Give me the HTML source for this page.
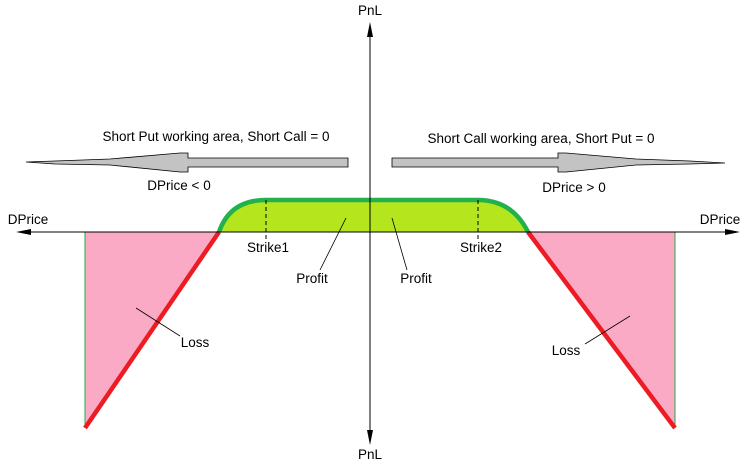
<!DOCTYPE html>
<html><head><meta charset="utf-8"><style>
html,body{margin:0;padding:0;background:#fff;}
svg{display:block;}
text{font-family:"Liberation Sans",Arial,sans-serif;font-size:13.5px;fill:#000;}
</style></head><body>
<svg width="751" height="463" viewBox="0 0 751 463" xmlns="http://www.w3.org/2000/svg">
<polygon points="85,232 219,232 85,428" fill="#fbaac6"/>
<polygon points="528,232 675,232 675,428" fill="#fbaac6"/>
<line x1="85" y1="232" x2="85" y2="428" stroke="#22aa44" stroke-width="1"/>
<line x1="675" y1="232" x2="675" y2="428" stroke="#22aa44" stroke-width="1"/>
<path d="M219,232 Q230,200 266,200 L478,200 Q512,200 528,232 Z" fill="#b5e61d"/>
<path d="M219,232 Q230,200 266,200 L478,200 Q512,200 528,232" fill="none" stroke="#22b14c" stroke-width="4.5"/>
<line x1="219" y1="232" x2="85" y2="428" stroke="#ed1c24" stroke-width="4.5"/>
<line x1="528" y1="232" x2="675" y2="428" stroke="#ed1c24" stroke-width="4.5"/>
<line x1="20" y1="232" x2="736" y2="232" stroke="#000" stroke-width="1"/>
<polygon points="16,232 31,229 31,235" fill="#000"/>
<polygon points="740,232 725,229 725,235" fill="#000"/>
<line x1="370" y1="26" x2="370" y2="440" stroke="#000" stroke-width="1"/>
<polygon points="370,22 367,37 373,37" fill="#000"/>
<polygon points="370,445 367,430 373,430" fill="#000"/>
<line x1="266" y1="200" x2="266" y2="240" stroke="#000" stroke-dasharray="4,3"/>
<line x1="478" y1="200" x2="478" y2="240" stroke="#000" stroke-dasharray="4,3"/>
<polygon points="348,158 348,167 188,167 188,172 180,172 110,165 55,164 26,162 55,161 110,159 180,153 188,153 188,158" fill="#c3c3c3" stroke="#000" stroke-width="0.8"/>
<polygon points="392,158 392,167 558,167 558,172 566,172 636,165 690,164 725,163 690,161 636,159 566,153 558,153 558,158" fill="#c3c3c3" stroke="#000" stroke-width="0.8"/>
<line x1="320" y1="270" x2="346" y2="218" stroke="#000" stroke-width="0.8"/>
<line x1="407" y1="270" x2="392" y2="218" stroke="#000" stroke-width="0.8"/>
<line x1="180" y1="336" x2="136" y2="308" stroke="#000" stroke-width="0.8"/>
<line x1="585" y1="344" x2="630" y2="316" stroke="#000" stroke-width="0.8"/>
<text x="370" y="15" text-anchor="middle">PnL</text>
<text x="370" y="459" text-anchor="middle">PnL</text>
<text x="28" y="224" text-anchor="middle">DPrice</text>
<text x="720" y="224" text-anchor="middle">DPrice</text>
<text x="216" y="141" text-anchor="middle">Short Put working area, Short Call = 0</text>
<text x="541" y="143" text-anchor="middle">Short Call working area,  Short Put = 0</text>
<text x="179" y="190" text-anchor="middle">DPrice &lt; 0</text>
<text x="574" y="192" text-anchor="middle">DPrice &gt; 0</text>
<text x="268" y="252" text-anchor="middle">Strike1</text>
<text x="481" y="252" text-anchor="middle">Strike2</text>
<text x="312" y="283" text-anchor="middle">Profit</text>
<text x="416" y="283" text-anchor="middle">Profit</text>
<text x="195" y="347" text-anchor="middle">Loss</text>
<text x="566" y="355" text-anchor="middle">Loss</text>
</svg>
</body></html>
